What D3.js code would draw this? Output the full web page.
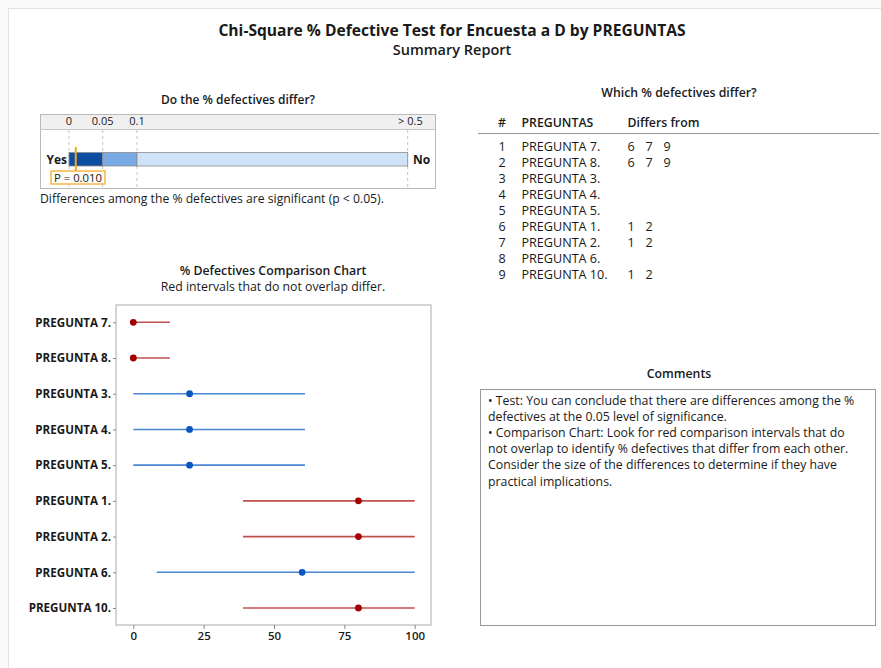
<!DOCTYPE html>
<html>
<head>
<meta charset="utf-8">
<script src="https://cdn.jsdelivr.net/npm/d3@7"></script>
<style>
  html, body { margin: 0; padding: 0; background: #fafafa; }
  svg { display: block; font-family: "Open Sans", "Noto Sans", sans-serif; }
</style>
</head>
<body>
<svg id="chart" width="881" height="668"></svg>
<script>
// Groups in the order they appear in the comparison chart and table
const groups = ["PREGUNTA 7.", "PREGUNTA 8.", "PREGUNTA 3.", "PREGUNTA 4.", "PREGUNTA 5.",
                "PREGUNTA 1.", "PREGUNTA 2.", "PREGUNTA 6.", "PREGUNTA 10."];
// % defective estimates and comparison interval bounds
const pctDefective = [0, 0, 20, 20, 20, 80, 80, 60, 80];
const lowerBound   = [0, 0, 0, 0, 0, 39, 39, 8.3, 39];
const upperBound   = [13, 13, 61, 61, 61, 100, 100, 100, 100];
// Whether each interval is flagged as differing (red) or not (blue)
const differs      = [true, true, false, false, false, true, true, false, true];
// "Differs from" column of the table
const differsFrom  = [[6, 7, 9], [6, 7, 9], [], [], [], [1, 2], [1, 2], [], [1, 2]];
const xTicks = [0, 25, 50, 75, 100];

// p-value bar
const pValue = 0.010;
const pBreaks = [0, 0.05, 0.1, 0.5];
const pBreakLabels = ["0", "0.05", "0.1", "> 0.5"];

const comments = [
  "\u2022  Test: You can conclude that there are differences among the %",
  "defectives at the 0.05 level of significance.",
  "\u2022  Comparison Chart: Look for red comparison intervals that do",
  "not overlap to identify % defectives that differ from each other.",
  "Consider the size of the differences to determine if they have",
  "practical implications."
];

const svg = d3.select("#chart");
const txt = "#1a1a1a";

// page panel
svg.append("rect").attr("x", 8.5).attr("y", 8.5).attr("width", 880).attr("height", 680)
  .attr("fill", "#fff").attr("stroke", "#e2e2e2");

// Titles
svg.append("text").attr("x", 452).attr("y", 36).attr("text-anchor", "middle")
  .attr("font-size", 15.6).attr("font-weight", 700).attr("fill", txt)
  .text("Chi-Square % Defective Test for Encuesta a D by PREGUNTAS");
svg.append("text").attr("x", 452).attr("y", 55).attr("text-anchor", "middle")
  .attr("font-size", 14.5).attr("font-weight", 600).attr("fill", txt)
  .text("Summary Report");

// ---------- p-value bar ----------
const bx0 = 40, bx1 = 435, by0 = 114, by1 = 188, hdr = 129;
svg.append("text").attr("x", 238).attr("y", 104).attr("text-anchor", "middle")
  .attr("font-size", 12).attr("font-weight", 600).attr("fill", txt)
  .text("Do the % defectives differ?");
svg.append("rect").attr("x", bx0 + 0.5).attr("y", by0 + 0.5).attr("width", bx1 - bx0).attr("height", by1 - by0)
  .attr("fill", "#fff").attr("stroke", "#b9b9b9");
svg.append("rect").attr("x", bx0 + 1).attr("y", by0 + 1).attr("width", bx1 - bx0 - 1).attr("height", hdr - by0 - 1)
  .attr("fill", "#f0f0f0");
svg.append("line").attr("x1", bx0).attr("x2", bx1).attr("y1", hdr + 0.5).attr("y2", hdr + 0.5).attr("stroke", "#c8c8c8");

const pScale = d3.scaleLinear()
  .domain(pBreaks)
  .range([69, 102.7, 137, 407.7]);

pBreaks.forEach((b, i) => {
  svg.append("line").attr("x1", pScale(b)).attr("x2", pScale(b)).attr("y1", hdr + 1).attr("y2", by1)
    .attr("stroke", "#c4c4c4").attr("stroke-dasharray", "3,3");
  svg.append("text").attr("x", pScale(b)).attr("y", 125)
    .attr("text-anchor", i === 3 ? "end" : "middle")
    .attr("dx", i === 3 ? 15 : 0)
    .attr("font-size", 11).attr("fill", txt).text(pBreakLabels[i]);
});
const barY = 152.5, barH = 13.5;
const zoneFill = ["#0b4ea2", "#78a9e3", "#cfe3f8"];
for (let i = 0; i < 3; i++) {
  svg.append("rect").attr("x", pScale(pBreaks[i])).attr("y", barY)
    .attr("width", pScale(pBreaks[i + 1]) - pScale(pBreaks[i])).attr("height", barH)
    .attr("fill", zoneFill[i]).attr("stroke", "#8c8c8c").attr("stroke-width", 0.8);
}
svg.append("text").attr("x", 67).attr("y", barY + 11).attr("text-anchor", "end")
  .attr("font-size", 12).attr("font-weight", 700).attr("fill", txt).text("Yes");
svg.append("text").attr("x", 413).attr("y", barY + 11)
  .attr("font-size", 12).attr("font-weight", 700).attr("fill", txt).text("No");
const px = pScale(pValue);
svg.append("line").attr("x1", px).attr("x2", px).attr("y1", 147).attr("y2", 172)
  .attr("stroke", "#f5a623").attr("stroke-width", 2);
svg.append("rect").attr("x", 51).attr("y", 171).attr("width", 54).attr("height", 13)
  .attr("fill", "#fffdf5").attr("stroke", "#f5a623").attr("stroke-width", 1.2);
svg.append("text").attr("x", 78).attr("y", 181.5).attr("text-anchor", "middle")
  .attr("font-size", 11.3).attr("fill", txt).text("P = " + pValue.toFixed(3));
svg.append("text").attr("x", 40).attr("y", 203)
  .attr("font-size", 12.2).attr("fill", txt)
  .text("Differences among the % defectives are significant (p < 0.05).");

// ---------- table ----------
svg.append("text").attr("x", 679).attr("y", 97).attr("text-anchor", "middle")
  .attr("font-size", 12.3).attr("font-weight", 600).attr("fill", txt).text("Which % defectives differ?");
svg.append("text").attr("x", 498).attr("y", 127).attr("font-size", 12.3).attr("font-weight", 600).attr("fill", txt).text("#");
svg.append("text").attr("x", 521.5).attr("y", 127).attr("font-size", 12.3).attr("font-weight", 600).attr("fill", txt).text("PREGUNTAS");
svg.append("text").attr("x", 627.5).attr("y", 127).attr("font-size", 12.3).attr("font-weight", 600).attr("fill", txt).text("Differs from");
svg.append("line").attr("x1", 478).attr("x2", 879).attr("y1", 133.5).attr("y2", 133.5).attr("stroke", "#9a9a9a").attr("stroke-width", 1.2);
groups.forEach((g, i) => {
  const y = 150.5 + i * 16;
  svg.append("text").attr("x", 502).attr("y", y).attr("text-anchor", "middle")
    .attr("font-size", 12.6).attr("fill", txt).text(i + 1);
  svg.append("text").attr("x", 521.5).attr("y", y).attr("font-size", 12.6).attr("fill", txt).text(g);
  differsFrom[i].forEach((d, j) => {
    svg.append("text").attr("x", 631 + j * 18).attr("y", y).attr("text-anchor", "middle")
      .attr("font-size", 12.6).attr("fill", txt).text(d);
  });
});

// ---------- comments ----------
svg.append("text").attr("x", 679).attr("y", 378).attr("text-anchor", "middle")
  .attr("font-size", 12.3).attr("font-weight", 600).attr("fill", txt).text("Comments");
svg.append("rect").attr("x", 480.5).attr("y", 389.5).attr("width", 395).attr("height", 236)
  .attr("fill", "#fff").attr("stroke", "#9a9a9a");
comments.forEach((c, i) => {
  svg.append("text").attr("x", 488).attr("y", 405 + i * 16.1)
    .attr("font-size", 12.3).attr("fill", txt).text(c);
});

// ---------- comparison chart ----------
svg.append("text").attr("x", 273).attr("y", 275).attr("text-anchor", "middle")
  .attr("font-size", 12.3).attr("font-weight", 600).attr("fill", txt).text("% Defectives Comparison Chart");
svg.append("text").attr("x", 273).attr("y", 291).attr("text-anchor", "middle")
  .attr("font-size", 12.3).attr("fill", txt).text("Red intervals that do not overlap differ.");

const plot = { x0: 116, x1: 431, y0: 305, y1: 625 };
const x = d3.scaleLinear().domain([0, 100]).range([133.3, 414.7]);
const y = d3.scalePoint().domain(groups).range([322.3, 608]);

svg.append("rect").attr("x", plot.x0).attr("y", plot.y0)
  .attr("width", plot.x1 - plot.x0).attr("height", plot.y1 - plot.y0)
  .attr("fill", "#fff").attr("stroke", "#c6c6c6").attr("stroke-width", 1.5);

const yAxis = svg.append("g").attr("transform", `translate(${plot.x0},0)`)
  .call(d3.axisLeft(y).tickSize(3).tickPadding(2));
yAxis.select(".domain").remove();
yAxis.selectAll("line").attr("stroke", "#8a8a8a");
yAxis.selectAll("text").attr("font-family", "Open Sans, Noto Sans, sans-serif")
  .attr("font-size", 11.6).attr("font-weight", 700).attr("fill", txt);

const xAxis = svg.append("g").attr("transform", `translate(0,${plot.y1})`)
  .call(d3.axisBottom(x).tickValues(xTicks).tickSize(4).tickPadding(3));
xAxis.select(".domain").remove();
xAxis.selectAll("line").attr("stroke", "#8a8a8a");
xAxis.selectAll("text").attr("font-family", "Open Sans, Noto Sans, sans-serif")
  .attr("font-size", 11.5).attr("font-weight", 600).attr("fill", txt);

const redLine = "#c0504d", redDot = "#a50000", blueLine = "#4a86d4", blueDot = "#0a56c0";
groups.forEach((g, i) => {
  svg.append("line").attr("x1", x(lowerBound[i])).attr("x2", x(upperBound[i]))
    .attr("y1", y(g)).attr("y2", y(g))
    .attr("stroke", differs[i] ? redLine : blueLine).attr("stroke-width", 1.6);
  svg.append("circle").attr("cx", x(pctDefective[i])).attr("cy", y(g)).attr("r", 3.4)
    .attr("fill", differs[i] ? redDot : blueDot);
});
</script>
</body>
</html>
